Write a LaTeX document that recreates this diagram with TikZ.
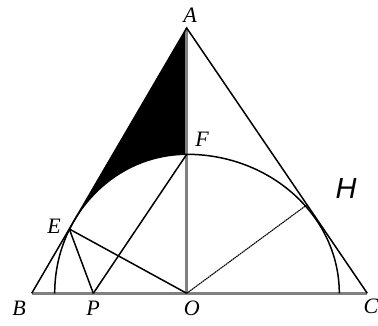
\documentclass[tikz,border=0pt]{standalone}
\usepackage{fontspec}
\setmainfont{Liberation Serif}
\newfontfamily\hfont{Liberation Sans}
\begin{document}
\begin{tikzpicture}[x=1pt,y=1pt,
  lbl/.style={inner sep=0pt,font=\fontsize{22}{22}\selectfont\itshape},
  thinln/.style={line width=1.5pt,black},
  grayln/.style={line width=3pt,black!50},
  dashln/.style={line width=1.1pt,black,dash pattern=on 1.6pt off 0.6pt}]
\useasboundingbox (0,0) rectangle (378,326);
% points (y measured upward)
\coordinate (A) at (186.7,298);
\coordinate (B) at (31.7,32.7);
\coordinate (C) at (367.3,32.7);
\coordinate (O) at (186.7,32.7);
\coordinate (F) at (186.7,171.7);
\coordinate (E) at (69.3,97);
\coordinate (H) at (306.7,121);
\coordinate (P) at (93.3,32.7);
\coordinate (L) at (54.7,32.7);
\coordinate (R) at (339.3,32.7);
% shaded region
\fill[black] (A) -- (F) arc[start angle=90,end angle=148.4,x radius=132,y radius=139] -- cycle;
% base and altitude
\draw[grayln] (B) -- (C);
\draw[grayln] (A) -- (O);
% triangle sides
\draw[thinln] (B) -- (A) -- (C);
% semicircle-like arc
\draw[thinln] (L) arc[start angle=180,end angle=90,x radius=132,y radius=139]
  arc[start angle=90,end angle=0,x radius=152.6,y radius=139];
% segments
\draw[thinln] (E) -- (O);
\draw[thinln] (E) -- (P);
\draw[thinln] (P) -- (F);
\draw[dashln] (O) -- (H);
% labels
\node[lbl] (lA) at (190,311) {A};
\node[lbl] (lF) at (202,187) {F};
\node[lbl] (lE) at (54,99.5) {E};
\node[lbl] (lB) at (19,18) {B};
\node[lbl] (lP) at (93,18) {P};
\node[lbl] (lO) at (191.7,18) {O};
\node[lbl] (lC) at (371,19.3) {C};
\node[inner sep=0pt,font=\hfont\fontsize{29}{29}\selectfont\itshape] (lH) at (346,137) {H};
\end{tikzpicture}
\end{document}
